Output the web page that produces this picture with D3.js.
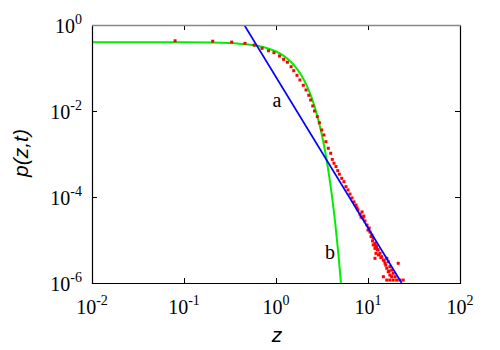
<!DOCTYPE html>
<html>
<head>
<meta charset="utf-8">
<script src="https://cdn.jsdelivr.net/npm/d3@7"></script>
<style>
  body { margin: 0; background: #fff; }
  svg { display: block; }
</style>
</head>
<body>
<div id="chart"></div>
<script>
// tick values (powers of ten)
var xTickExp = [-2, -1, 0, 1, 2];
var yTickExp = [-6, -4, -2, 0];

// green curve
var greenZ = [0.01, 0.1, 0.2, 0.3, 0.4, 0.5, 0.6, 0.7, 0.8, 0.9, 1.0, 1.2, 1.4, 1.6, 1.8,
              2.0, 2.2, 2.4, 2.6, 2.8, 3.0, 3.2, 3.4, 3.6, 3.8, 4.0, 4.2, 4.4, 4.6, 4.8, 5.0, 5.2];
var greenP = [0.399, 0.397, 0.391, 0.381, 0.368, 0.352, 0.333, 0.312, 0.290, 0.266, 0.242,
              0.194, 0.150, 0.111, 0.079, 0.054, 0.0355, 0.0224, 0.0136, 0.0079, 0.0044,
              0.00238, 0.00123, 0.00061, 0.00029, 0.000134, 5.9e-5, 2.5e-5, 1.0e-5, 4.0e-6,
              1.5e-6, 5.1e-7];

// blue straight line (power law), end points
var blueZ = [0.452, 23.2];
var blueP = [1.0, 1e-6];

// red data points
var redZ = [0.080, 0.205, 0.33, 0.46, 0.58, 0.705, 0.83, 0.95, 1.09, 1.21, 1.33, 1.46, 1.56,
            1.69, 1.82, 1.98, 2.12, 2.27, 2.38, 2.51, 2.62, 2.81, 2.96, 3.14, 3.32, 3.49,
            3.70, 3.93, 4.09, 4.27, 4.49, 4.69, 4.88, 5.18, 5.48, 5.76, 6.06, 6.37, 6.70,
            7.04, 7.41, 7.78, 8.19, 8.61, 8.40, 8.83, 9.27, 9.75, 10.3, 10.5, 11.0, 11.4,
            11.9, 11.4, 12.4, 11.9, 12.9, 13.5, 12.2, 14.1, 11.9, 14.7, 16.0, 15.3, 16.6,
            17.3, 16.0, 18.1, 16.6, 18.8, 17.3, 19.7, 21.3, 14.7, 18.1,
            16.0, 17.3, 18.8, 20.5, 22.2, 24.1,
            10.0, 10.8, 11.2, 12.0, 12.6, 13.0, 13.8, 15.0, 15.6, 17.0, 9.0, 7.6];
var redP = [0.43, 0.42, 0.40, 0.375, 0.34, 0.287, 0.252, 0.227, 0.19, 0.159, 0.136, 0.107,
            0.0865, 0.0676, 0.0526, 0.0396, 0.0308, 0.0232, 0.018, 0.0131, 0.010, 0.0074,
            0.00534, 0.00362, 0.00277, 0.00193, 0.00136, 0.00104, 0.00075, 0.00061, 0.00051,
            0.00041, 0.00034, 0.000272, 0.000227, 0.000174, 0.000146, 0.000117, 9.5e-5,
            7.7e-5, 6.5e-5, 5.0e-5, 4.0e-5, 4.5e-5, 3.4e-5, 3.25e-5, 2.77e-5, 2.23e-5,
            1.9e-5, 1.53e-5, 1.3e-5, 1.1e-5, 8.4e-6, 7.7e-6, 7.0e-6, 6.4e-6, 5.85e-6,
            4.9e-6, 4.9e-6, 4.1e-6, 3.75e-6, 3.43e-6, 3.75e-6, 2.87e-6, 3.13e-6, 2.4e-6,
            2.2e-6, 2.0e-6, 1.83e-6, 1.68e-6, 1.53e-6, 1.4e-6, 2.87e-6, 1.4e-6, 1.4e-6,
            1.17e-6, 1.17e-6, 1.17e-6, 1.17e-6, 1.17e-6, 1.17e-6,
            1.7e-5, 1.2e-5, 9.5e-6, 7.5e-6, 6.0e-6, 4.5e-6, 3.9e-6, 3.3e-6, 2.6e-6, 1.9e-6,
            3.6e-5, 5.6e-5];

var drawChart = function() {
  var w = 500, h = 350;
  var mLeft = 92, mRight = 460, mTop = 25, mBottom = 283;

  var svg = d3.select("#chart").append("svg")
    .attr("width", w)
    .attr("height", h);

  var xScale = d3.scaleLog().domain([1e-2, 1e2]).range([mLeft, mRight]);
  var yScale = d3.scaleLog().domain([1e-6, 1]).range([mBottom, mTop]);

  svg.append("clipPath").attr("id", "clip")
    .append("rect")
    .attr("x", mLeft).attr("y", mTop)
    .attr("width", mRight - mLeft).attr("height", mBottom - mTop);

  var plot = svg.append("g").attr("clip-path", "url(#clip)");

  // green curve
  var greenData = greenZ.map(function(z, i) { return [z, greenP[i]]; });
  plot.append("path")
    .datum(greenData)
    .attr("fill", "none")
    .attr("stroke", "#00ee00")
    .attr("stroke-width", 2)
    .attr("d", d3.line()
      .x(function(d) { return xScale(d[0]); })
      .y(function(d) { return yScale(d[1]); })
      .curve(d3.curveMonotoneX));

  // red points
  var redData = redZ.map(function(z, i) { return [z, redP[i]]; });
  plot.selectAll("rect.pt")
    .data(redData)
    .enter()
    .append("rect")
    .attr("class", "pt")
    .attr("x", function(d) { return xScale(d[0]) - 1.5; })
    .attr("y", function(d) { return yScale(d[1]) - 1.5; })
    .attr("width", 3)
    .attr("height", 3)
    .attr("fill", "#ff0000");

  // blue line
  var blueData = blueZ.map(function(z, i) { return [z, blueP[i]]; });
  plot.append("path")
    .datum(blueData)
    .attr("fill", "none")
    .attr("stroke", "#0000ff")
    .attr("stroke-width", 1.7)
    .attr("d", d3.line()
      .x(function(d) { return xScale(d[0]); })
      .y(function(d) { return yScale(d[1]); }));

  // ticks (inward, on all sides)
  var tickLen = 5;
  var axes = svg.append("g").attr("stroke", "#000").attr("stroke-width", 1);
  xTickExp.forEach(function(e) {
    var x = Math.round(xScale(Math.pow(10, e))) + 0.5;
    axes.append("line").attr("x1", x).attr("x2", x).attr("y1", mBottom).attr("y2", mBottom - tickLen);
    axes.append("line").attr("x1", x).attr("x2", x).attr("y1", mTop).attr("y2", mTop + tickLen);
  });
  yTickExp.forEach(function(e) {
    var y = Math.round(yScale(Math.pow(10, e))) + 0.5;
    axes.append("line").attr("x1", mLeft).attr("x2", mLeft + tickLen).attr("y1", y).attr("y2", y);
    axes.append("line").attr("x1", mRight).attr("x2", mRight - tickLen).attr("y1", y).attr("y2", y);
  });

  // frame
  svg.append("path")
    .attr("d", "M" + (mLeft + 0.5) + "," + (mTop + 0.5) + "V" + (mBottom + 0.5) +
               "H" + (mRight + 0.5) + "V" + (mTop + 0.5))
    .attr("fill", "none")
    .attr("stroke", "#000")
    .attr("stroke-width", 1.2);
  svg.append("line")
    .attr("x1", mLeft).attr("x2", mRight + 1)
    .attr("y1", mTop + 0.5).attr("y2", mTop + 0.5)
    .attr("stroke", "#888")
    .attr("stroke-width", 1.5);

  // tick labels
  var tickFont = "'Liberation Serif', 'Times New Roman', serif";
  xTickExp.forEach(function(e) {
    var t = svg.append("text")
      .attr("x", xScale(Math.pow(10, e)))
      .attr("y", 314)
      .attr("text-anchor", "middle")
      .attr("font-family", tickFont)
      .attr("font-size", 20);
    t.append("tspan").text("10");
    t.append("tspan").attr("dy", -9).attr("font-size", 14).text(e < 0 ? "-" + (-e) : e);
  });
  yTickExp.forEach(function(e) {
    var t = svg.append("text")
      .attr("x", 82)
      .attr("y", yScale(Math.pow(10, e)) + 8)
      .attr("text-anchor", "end")
      .attr("font-family", tickFont)
      .attr("font-size", 20);
    t.append("tspan").text("10");
    t.append("tspan").attr("dy", -9).attr("font-size", 14).text(e < 0 ? "-" + (-e) : e);
  });

  // axis titles
  svg.append("text")
    .attr("x", 277)
    .attr("y", 342)
    .attr("text-anchor", "middle")
    .attr("font-family", "'Liberation Sans', Arial, sans-serif")
    .attr("font-style", "italic")
    .attr("font-size", 21)
    .text("z");

  svg.append("text")
    .attr("transform", "translate(28,153) rotate(-90)")
    .attr("text-anchor", "middle")
    .attr("font-family", "'Liberation Sans', Arial, sans-serif")
    .attr("font-style", "italic")
    .attr("font-size", 21)
    .text("p(z,t)");

  // curve labels
  svg.append("text")
    .attr("x", 277).attr("y", 107)
    .attr("text-anchor", "middle")
    .attr("font-family", tickFont)
    .attr("font-size", 20)
    .text("a");
  svg.append("text")
    .attr("x", 330).attr("y", 259)
    .attr("text-anchor", "middle")
    .attr("font-family", tickFont)
    .attr("font-size", 20)
    .text("b");
}

drawChart();
</script>
</body>
</html>
